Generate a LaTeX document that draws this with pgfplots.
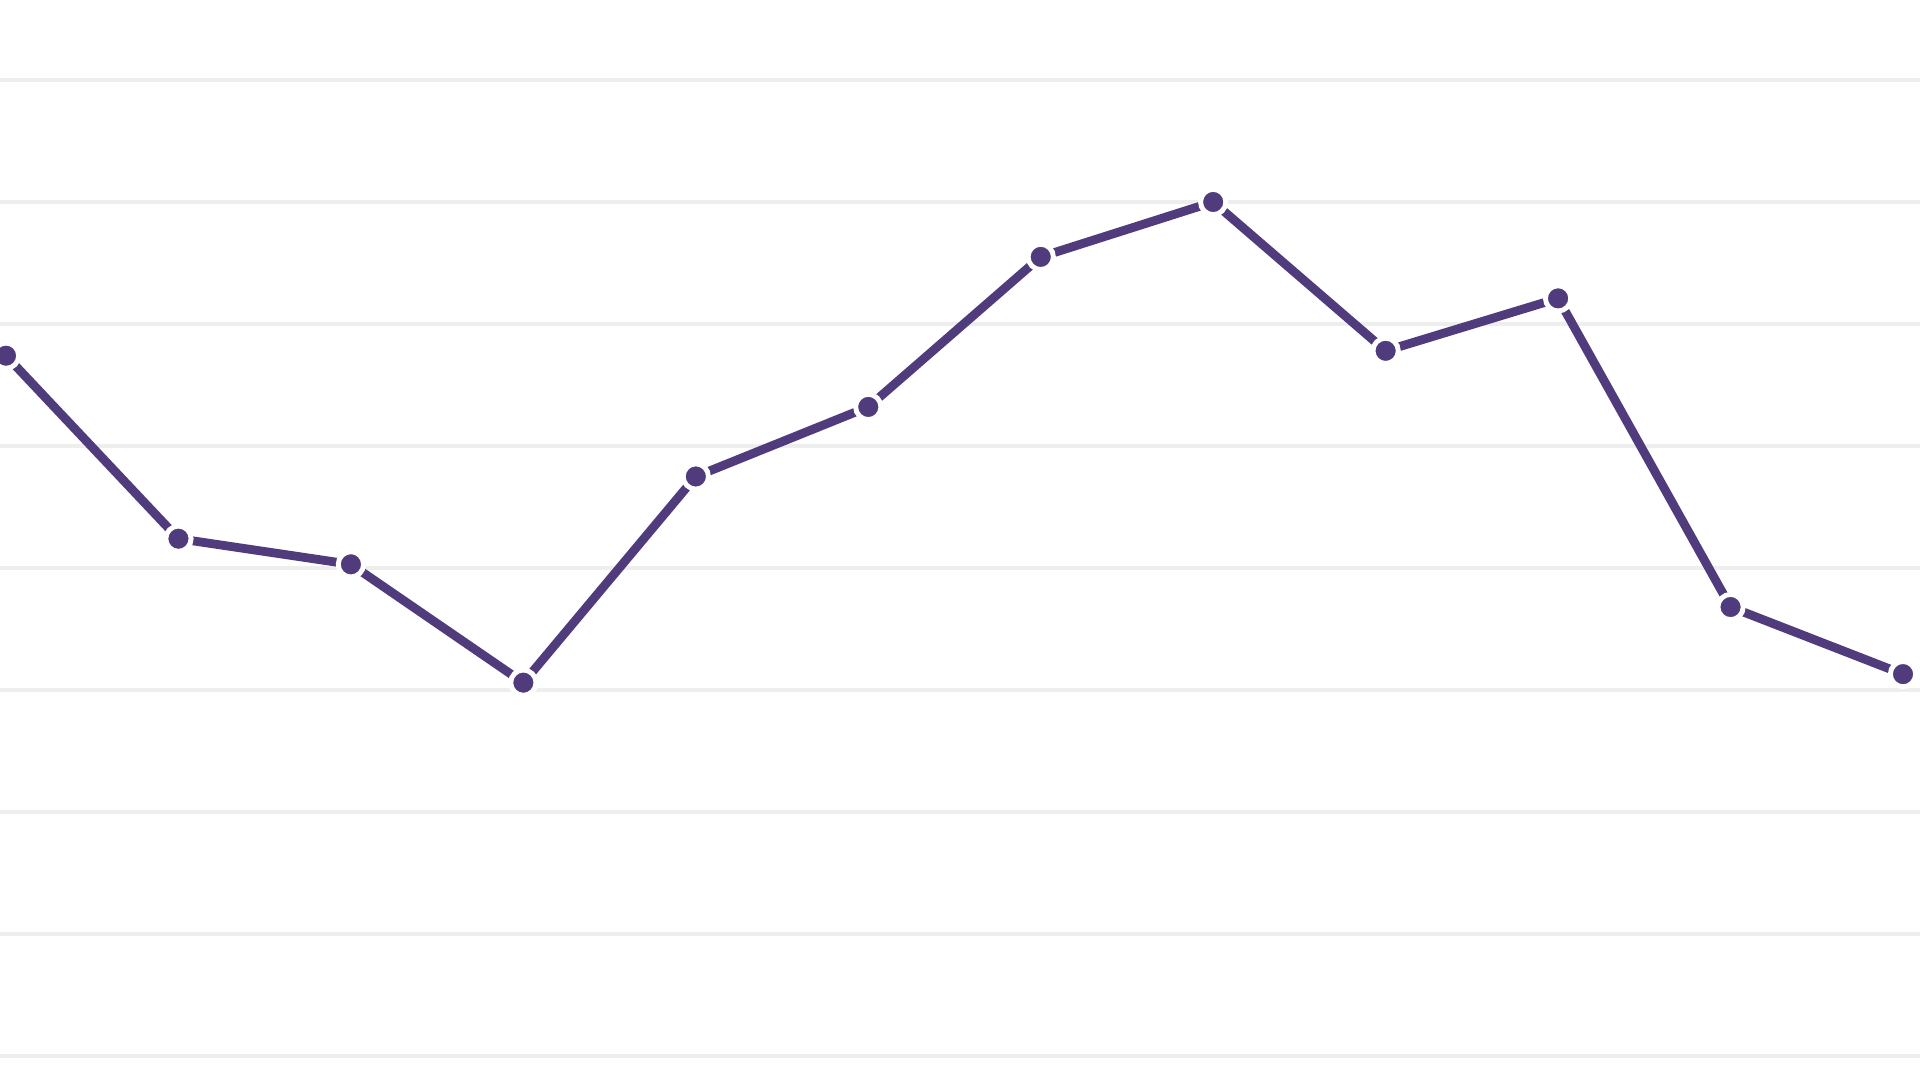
\documentclass[border=0pt]{standalone}
\usepackage{pgfplots}
\pgfplotsset{compat=1.18}
\definecolor{lineC}{RGB}{80,60,125}
\definecolor{gridC}{RGB}{238,238,238}
\begin{document}
\begin{tikzpicture}
\useasboundingbox[fill=white] (0,0) rectangle (19.2cm,10.8cm);
\begin{axis}[
  at={(0,0)}, anchor=south west,
  scale only axis, width=19.2cm, height=10.8cm,
  xmin=-0.0348, xmax=11.0986,
  ymin=-0.197, ymax=8.656,
  axis line style={draw=none},
  tick style={draw=none},
  xtick=\empty, ytick={0,1,...,8}, yticklabels={},
  ymajorgrids, major grid style={gridC, line width=1.1pt},
  clip=true,
]
\addplot[lineC, line width=2.5pt, mark=*, mark size=3.6pt,
  mark options={fill=lineC, draw=white, line width=1.4pt}]
  coordinates {
  (0,5.74) (1,4.24) (2,4.03) (3,3.06) (4,4.75) (5,5.32)
  (6,6.55) (7,7.00) (8,5.78) (9,6.21) (10,3.68) (11,3.13)
  };
\end{axis}
\end{tikzpicture}
\end{document}
